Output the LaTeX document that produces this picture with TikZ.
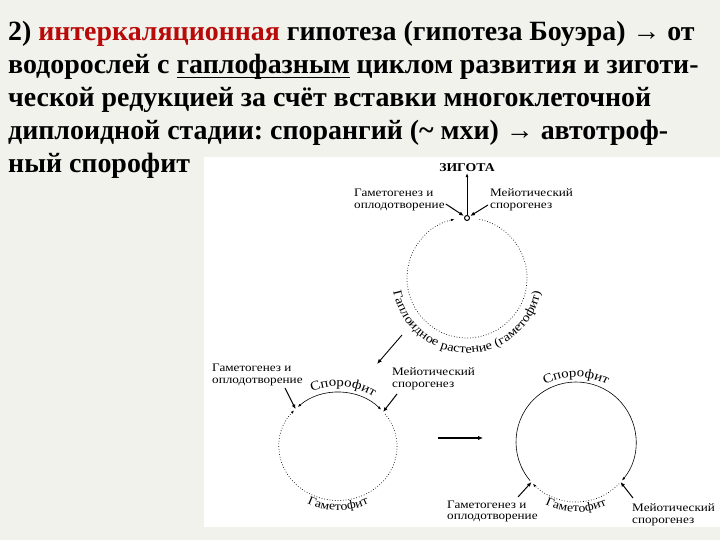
\documentclass[tikz,border=0pt]{standalone}
\usepackage{fontspec}
\setmainfont{Liberation Serif}
\newfontfamily\diagfont[FakeStretch=1.15]{Liberation Serif}
\newcommand\heavyul[1]{\setbox0\hbox{#1}\rlap{\rule[-4.5pt]{\wd0}{1.6pt}}\box0\relax}
\usetikzlibrary{positioning,arrows.meta,calc,decorations.text}
\definecolor{slidebg}{RGB}{242,242,236}
\definecolor{hypored}{RGB}{185,10,10}
\frenchspacing

\tikzset{
  headline/.style={anchor=base west, inner sep=0pt, font=\fontsize{28}{33}\selectfont\bfseries},
  lbl/.style={anchor=west, align=left, inner sep=0pt, font=\diagfont\fontsize{11.5}{11.8}\selectfont},
  sporo/.style={line width=0.6pt},
  gameto/.style={line width=0.7pt, dotted},
  lblarrow/.style={line width=1pt, -{Latex[length=4.5pt,width=4pt]}},
}

\begin{document}
\begin{tikzpicture}[x=1bp, y=1bp]
\useasboundingbox (0,0) rectangle (720,-540);
\fill[slidebg] (0,0) rectangle (720,-540);
\fill[white] (204,-157) rectangle (720,-527);

% text of the slide
\node[headline] (line1) at (8,-41) {2) \textcolor{hypored}{интеркаляционная} гипотеза (гипотеза Боуэра) → от};
\node[headline] (line2) at (8,-74) {водорослей с \heavyul{гаплофазным} циклом развития и зиготи-};
\node[headline] (line3) at (8,-107) {ческой редукцией за счёт вставки многоклеточной};
\node[headline] (line4) at (8,-140) {диплоидной стадии: спорангий (\textasciitilde{} мхи) → автотроф-};
\node[headline] (line5) at (8,-173) {ный спорофит};

% centres of the three cycles
\coordinate (T) at (467,-278);
\coordinate (L) at (338,-446.5);
\coordinate (R) at (576,-442);

% haploid cycle with zygote
\node[circle, draw, line width=1pt, inner sep=0pt, minimum size=5pt] (zyg) at (467,-218) {};
\draw[gameto, -{Latex[length=3.5pt]}] ($(T)+(78:60)$) arc[start angle=78, end angle=-258, radius=60];
\node[font=\diagfont\fontsize{12}{12}\selectfont\bfseries, inner sep=1pt] (zygname) at (467,-168) {ЗИГОТА};
\draw[line width=0.6pt, -{Latex[length=4pt,width=3pt]}] (zyg.north) -- (zygname.south);
\node[lbl] (tgam) at (354,-200) {Гаметогенез и\\оплодотворение};
\node[lbl] (tmei) at (490,-200) {Мейотический\\спорогенез};
\draw[lblarrow, shorten >=1pt] ([xshift=1pt,yshift=-4pt]tgam.east) -- (zyg);
\draw[lblarrow, shorten >=1pt] ([xshift=-2pt,yshift=-5pt]tmei.west) -- (zyg);
\path[decorate, decoration={text along path, text align=center,
  text={|\diagfont\fontsize{12.5}{12}\selectfont|Гаплоидное растение (гаметофит)}}]
  ($(T)+(160:75)$) arc[start angle=160, end angle=380, radius=75];

\coordinate (tailT) at (402,-335);
\coordinate (headL) at (377,-364);
\draw[line width=0.9pt, -{Latex[length=5pt,width=4pt]}] (tailT) -- (headL);

% left cycle (slightly flattened)
\coordinate (Lfert) at ($(L)+({59*cos(136)},{54*sin(136)})$);
\coordinate (Lmei) at ($(L)+({59*cos(40)},{54*sin(40)})$);
\draw[sporo, {Latex[length=3.5pt]}-{Latex[length=3.5pt]}] ($(L)+({59*cos(133)},{54*sin(133)})$)
  arc[start angle=133, end angle=43, x radius=59, y radius=54];
\draw[gameto, -{Latex[length=3.5pt]}] ($(L)+({59*cos(37)},{54*sin(37)})$)
  arc[start angle=37, end angle=-222, x radius=59, y radius=54];
\path[decorate, decoration={text along path, text align=center,
  text={|\diagfont\fontsize{13}{13}\selectfont|Спорофит}}]
  ($(L)+({64*cos(150)},{60*sin(150)})$) arc[start angle=150, end angle=20, x radius=64, y radius=60];
\path[decorate, decoration={text along path, text align=center,
  text={|\diagfont\fontsize{12}{12}\selectfont|Гаметофит}}]
  ($(L)+({68*cos(215)},{64*sin(215)})$) arc[start angle=215, end angle=325, x radius=68, y radius=64];
\node[lbl] (lgam) at (212,-375) {Гаметогенез и\\оплодотворение};
\node[lbl] (lmei) at (392,-378.5) {Мейотический\\спорогенез};
\coordinate (lgamfoot) at (285,-388);
\coordinate (lmeifoot) at (397,-394);
\draw[lblarrow] (lgamfoot) -- (Lfert);
\draw[lblarrow] (lmeifoot) -- (Lmei);

% arrow between the two lower cycles
\coordinate (midtail) at (438,-438);
\coordinate (midhead) at (483,-438);
\draw[line width=1.6pt, -{Latex[length=5pt,width=4.5pt]}] (midtail) -- (midhead);

% right cycle
\coordinate (Rfert) at ($(R)+(222:60)$);
\coordinate (Rmei) at ($(R)+(318:60)$);
\draw[sporo, -{Latex[length=3.5pt]}] ($(R)+(220:60)$) arc[start angle=220, end angle=-40, radius=60];
\draw[gameto, -{Latex[length=3.5pt]}] ($(R)+(-44:60)$) arc[start angle=-44, end angle=-136, radius=60];
\path[decorate, decoration={text along path, text align=center,
  text={|\diagfont\fontsize{13}{13}\selectfont|Спорофит}}]
  ($(R)+(150:65)$) arc[start angle=150, end angle=30, radius=65];
\path[decorate, decoration={text along path, text align=center,
  text={|\diagfont\fontsize{12}{12}\selectfont|Гаметофит}}]
  ($(R)+(215:70)$) arc[start angle=215, end angle=325, radius=70];
\node[lbl] (rgam) at (447,-511.5) {Гаметогенез и\\оплодотворение};
\node[lbl] (rmei) at (632,-514.5) {Мейотический\\спорогенез};
\coordinate (rgamfoot) at (518,-497);
\coordinate (rmeifoot) at (633,-498);
\draw[lblarrow] (rgamfoot) -- (Rfert);
\draw[lblarrow] (rmeifoot) -- (Rmei);
\end{tikzpicture}
\end{document}
